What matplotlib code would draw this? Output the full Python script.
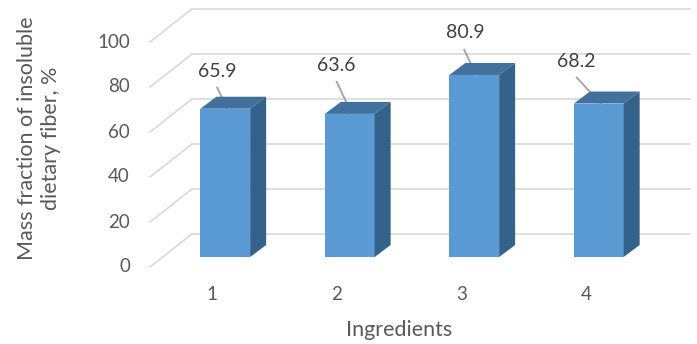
import matplotlib
matplotlib.use("Agg")
import matplotlib.pyplot as plt
from matplotlib.patches import Polygon
from matplotlib.transforms import IdentityTransform, offset_copy
import numpy as np

# Data
categories = ["1", "2", "3", "4"]
values = [65.9, 63.6, 80.9, 68.2]
y_ticks = [0, 20, 40, 60, 80, 100]

# Label placement (pixel offsets from the top-front centre of each bar)
label_text_offsets = [(-8, 37), (-13, 48), (-9, 42), (-22, 42)]
label_line_offsets = [(-8, 21), (-13, 32), (-10, 25), (-22, 26)]

# Styling
FONT = "Lato"
TEXT = "#595959"
GRID = "#D9D9D9"
FRONT = "#5B9BD5"
TOP = "#41719C"
SIDE = "#35628A"
BAR_W = 0.4
DEPTH = (16, 12)          # bar depth in pixels (x, y)
BACK = (29, 23)           # back wall offset from bar plane in pixels
FLOOR = (-13, -10)        # front floor edge offset from bar plane in pixels

W, H = 697, 344
fig = plt.figure(figsize=(W / 100, H / 100), dpi=100)
ax = fig.add_axes([163 / W, (H - 257) / H, 498 / W, 225 / H])
ax.set_xlim(0.5, len(categories) + 0.5)
ax.set_ylim(0, 100)
ax.axis("off")

x = np.arange(1, len(categories) + 1)
ident = IdentityTransform()

# back wall gridlines and floor diagonals
back_tr = offset_copy(ax.transData, fig=fig, x=BACK[0], y=BACK[1], units="dots")
for v in y_ticks:
    ax.plot([0.5, len(categories) + 0.5], [v, v], color=GRID, lw=1.2,
            transform=back_tr, zorder=0, clip_on=False)
    p = ax.transData.transform((0.5, v))
    ax.plot([p[0] + FLOOR[0], p[0] + BACK[0]], [p[1] + FLOOR[1], p[1] + BACK[1]],
            color=GRID, lw=1.2, transform=ident, zorder=0, clip_on=False)
    fig.text(p[0] + FLOOR[0] - 20, p[1] + FLOOR[1], str(v), transform=ident,
             ha="right", va="center", fontsize=13.5, color=TEXT, family=FONT)

# bars: front face, top and side
ax.bar(x, values, width=BAR_W, color=FRONT, zorder=3)
for xi, v in zip(x, values):
    l0 = ax.transData.transform((xi - BAR_W / 2, 0))
    r0 = ax.transData.transform((xi + BAR_W / 2, 0))
    lt = ax.transData.transform((xi - BAR_W / 2, v))
    rt = ax.transData.transform((xi + BAR_W / 2, v))
    dx, dy = DEPTH
    top = [lt, rt, (rt[0] + dx, rt[1] + dy), (lt[0] + dx, lt[1] + dy)]
    side = [r0, rt, (rt[0] + dx, rt[1] + dy), (r0[0] + dx, r0[1] + dy)]
    fig.patches.append(Polygon(top, closed=True, facecolor=TOP, edgecolor="none",
                               transform=ident, zorder=4))
    fig.patches.append(Polygon(side, closed=True, facecolor=SIDE, edgecolor="none",
                               transform=ident, zorder=4))

# category labels along the front floor edge
for xi, c in zip(x, categories):
    p = ax.transData.transform((xi, 0))
    fig.text(p[0] + FLOOR[0], p[1] + FLOOR[1] - 28, c, transform=ident,
             ha="center", va="center", fontsize=13.5, color=TEXT, family=FONT)

# value labels with leader lines
for xi, v, (tx, ty), (lx, ly) in zip(x, values, label_text_offsets, label_line_offsets):
    p = ax.transData.transform((xi, v))
    ax.plot([p[0] + lx, p[0] + 2], [p[1] + ly, p[1]], color="#A6A6A6", lw=1.4,
            transform=ident, zorder=6, clip_on=False)
    fig.text(p[0] + tx, p[1] + ty, f"{v:.1f}", transform=ident,
             ha="center", va="center", fontsize=14, color="#404040", family=FONT, zorder=7)

fig.text(399 / W, 1 - 330 / H, "Ingredients", ha="center", va="center",
         fontsize=15.5, color=TEXT, family=FONT)
fig.text(39 / W, 1 - 138 / H, "Mass fraction of insoluble\ndietary fiber, %",
         ha="center", va="center", rotation=90, fontsize=15.5, color=TEXT,
         family=FONT, linespacing=1.25, multialignment="center")

fig.savefig("out.png", dpi=100)
